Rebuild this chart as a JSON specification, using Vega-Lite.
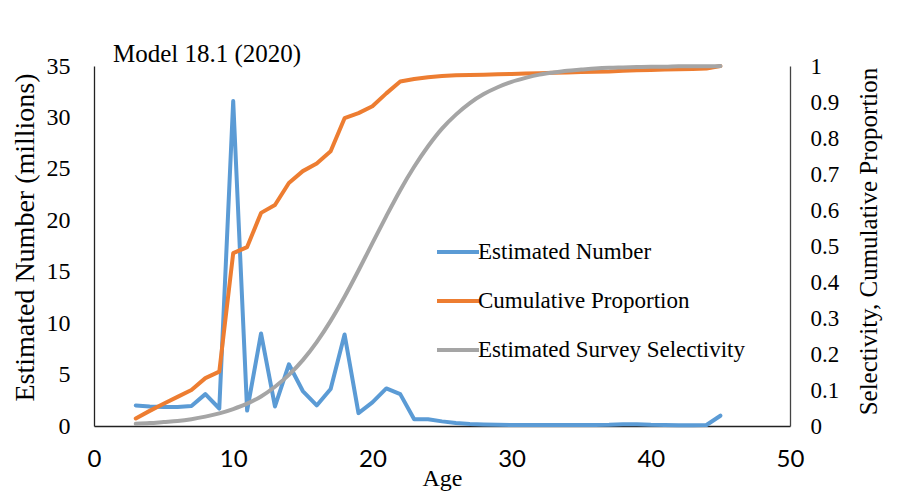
{
  "$schema": "https://vega.github.io/schema/vega-lite/v6.json",
  "width": 696,
  "height": 360,
  "autosize": {"type": "none"},
  "padding": {"left": 94, "top": 66, "right": 111, "bottom": 66},
  "background": "white",
  "config": {"view": {"stroke": null}, "font": "Liberation Serif"},
  "title": {
    "text": "Model 18.1 (2020)",
    "anchor": "start",
    "frame": "group",
    "dx": 19,
    "dy": 36,
    "offset": 3,
    "baseline": "alphabetic",
    "font": "Liberation Serif",
    "fontSize": 25,
    "fontWeight": "normal",
    "color": "black"
  },
  "data": {
    "values": [
      {"age": 3, "number": 2.0, "cumulative": 0.021, "selectivity": 0.006},
      {"age": 4, "number": 1.9, "cumulative": 0.042, "selectivity": 0.008},
      {"age": 5, "number": 1.85, "cumulative": 0.062, "selectivity": 0.011},
      {"age": 6, "number": 1.85, "cumulative": 0.081, "selectivity": 0.014},
      {"age": 7, "number": 1.95, "cumulative": 0.1, "selectivity": 0.019},
      {"age": 8, "number": 3.1, "cumulative": 0.133, "selectivity": 0.026},
      {"age": 9, "number": 1.7, "cumulative": 0.151, "selectivity": 0.035},
      {"age": 10, "number": 31.6, "cumulative": 0.48, "selectivity": 0.047},
      {"age": 11, "number": 1.5, "cumulative": 0.497, "selectivity": 0.062},
      {"age": 12, "number": 9.0, "cumulative": 0.592, "selectivity": 0.082},
      {"age": 13, "number": 1.9, "cumulative": 0.614, "selectivity": 0.109},
      {"age": 14, "number": 6.0, "cumulative": 0.675, "selectivity": 0.142},
      {"age": 15, "number": 3.4, "cumulative": 0.708, "selectivity": 0.183},
      {"age": 16, "number": 2.0, "cumulative": 0.729, "selectivity": 0.233},
      {"age": 17, "number": 3.6, "cumulative": 0.763, "selectivity": 0.292},
      {"age": 18, "number": 8.9, "cumulative": 0.855, "selectivity": 0.359},
      {"age": 19, "number": 1.25, "cumulative": 0.869, "selectivity": 0.432},
      {"age": 20, "number": 2.3, "cumulative": 0.888, "selectivity": 0.508},
      {"age": 21, "number": 3.65, "cumulative": 0.924, "selectivity": 0.583},
      {"age": 22, "number": 3.1, "cumulative": 0.957, "selectivity": 0.655},
      {"age": 23, "number": 0.65, "cumulative": 0.964, "selectivity": 0.72},
      {"age": 24, "number": 0.65, "cumulative": 0.969, "selectivity": 0.777},
      {"age": 25, "number": 0.45, "cumulative": 0.972, "selectivity": 0.826},
      {"age": 26, "number": 0.3, "cumulative": 0.974, "selectivity": 0.865},
      {"age": 27, "number": 0.2, "cumulative": 0.975, "selectivity": 0.897},
      {"age": 28, "number": 0.15, "cumulative": 0.976, "selectivity": 0.922},
      {"age": 29, "number": 0.12, "cumulative": 0.977, "selectivity": 0.941},
      {"age": 30, "number": 0.1, "cumulative": 0.978, "selectivity": 0.956},
      {"age": 31, "number": 0.1, "cumulative": 0.979, "selectivity": 0.967},
      {"age": 32, "number": 0.1, "cumulative": 0.98, "selectivity": 0.976},
      {"age": 33, "number": 0.1, "cumulative": 0.981, "selectivity": 0.982},
      {"age": 34, "number": 0.1, "cumulative": 0.982, "selectivity": 0.987},
      {"age": 35, "number": 0.1, "cumulative": 0.983, "selectivity": 0.99},
      {"age": 36, "number": 0.1, "cumulative": 0.984, "selectivity": 0.993},
      {"age": 37, "number": 0.12, "cumulative": 0.985, "selectivity": 0.995},
      {"age": 38, "number": 0.18, "cumulative": 0.987, "selectivity": 0.996},
      {"age": 39, "number": 0.18, "cumulative": 0.988, "selectivity": 0.997},
      {"age": 40, "number": 0.12, "cumulative": 0.989, "selectivity": 0.998},
      {"age": 41, "number": 0.1, "cumulative": 0.99, "selectivity": 0.998},
      {"age": 42, "number": 0.08, "cumulative": 0.991, "selectivity": 0.999},
      {"age": 43, "number": 0.08, "cumulative": 0.992, "selectivity": 0.999},
      {"age": 44, "number": 0.1, "cumulative": 0.993, "selectivity": 0.999},
      {"age": 45, "number": 1.0, "cumulative": 1.0, "selectivity": 1.0}
    ]
  },
  "encoding": {
    "x": {
      "field": "age",
      "type": "quantitative",
      "scale": {"domain": [0, 50], "nice": false},
      "axis": {
        "title": "Age",
        "values": [0, 10, 20, 30, 40, 50],
        "ticks": false,
        "grid": false,
        "domainColor": "#222222",
        "domainWidth": 1.3,
        "labelFlush": false,
        "labelFont": "Lato",
        "labelFontSize": 24,
        "labelColor": "black",
        "labelPadding": 21,
        "titleFont": "Liberation Serif",
        "titleFontSize": 24,
        "titleFontWeight": "normal",
        "titleColor": "black",
        "titleBaseline": "alphabetic",
        "titleY": 59
      }
    }
  },
  "layer": [
    {
      "mark": {"type": "line", "strokeWidth": 4, "strokeCap": "round", "strokeJoin": "round"},
      "encoding": {
        "y": {
          "field": "number",
          "type": "quantitative",
          "scale": {"domain": [0, 35], "nice": false},
          "axis": {
            "orient": "left",
            "title": "Estimated Number (millions)",
            "values": [0, 5, 10, 15, 20, 25, 30, 35],
            "format": "d",
            "ticks": false,
            "grid": false,
            "domainColor": "#222222",
            "domainWidth": 1.3,
            "labelFlush": false,
            "labelFont": "Liberation Serif",
            "labelFontSize": 24,
            "labelColor": "black",
            "labelPadding": 24,
            "titleFont": "Liberation Serif",
            "titleFontSize": 28,
            "titleFontWeight": "normal",
            "titleColor": "black",
            "titleAngle": -90,
            "titleBaseline": "alphabetic",
            "titleAlign": "center",
            "titleX": -61,
            "titleY": 171
          }
        },
        "color": {
          "datum": "Estimated Number",
          "scale": {
            "domain": ["Estimated Number", "Cumulative Proportion", "Estimated Survey Selectivity"],
            "range": ["#5B9BD5", "#ED7D31", "#A5A5A5"]
          },
          "legend": {
            "orient": "none",
            "legendX": 341,
            "legendY": 163,
            "title": null,
            "symbolType": "stroke",
            "symbolSize": 1764,
            "symbolStrokeWidth": 4,
            "labelFont": "Liberation Serif",
            "labelFontSize": 23,
            "labelColor": "black",
            "labelOffset": -3,
            "rowPadding": 14,
            "labelLimit": 400
          }
        }
      }
    },
    {
      "layer": [
        {
          "mark": {"type": "line", "strokeWidth": 4, "strokeCap": "round", "strokeJoin": "round"},
          "encoding": {
            "y": {
              "field": "cumulative",
              "type": "quantitative",
              "scale": {"domain": [0, 1], "nice": false},
              "axis": {
                "orient": "right",
                "title": "Selectivity, Cumulative Proportion",
                "values": [0, 0.1, 0.2, 0.3, 0.4, 0.5, 0.6, 0.7, 0.8, 0.9, 1],
                "format": "~g",
                "ticks": false,
                "grid": false,
                "domainColor": "#444444",
                "domainWidth": 1.3,
                "labelFlush": false,
                "labelFont": "Liberation Serif",
                "labelFontSize": 23,
                "labelColor": "black",
                "labelPadding": 20,
                "titleFont": "Liberation Serif",
                "titleFontSize": 25,
                "titleFontWeight": "normal",
                "titleColor": "black",
                "titleAngle": -90,
                "titleBaseline": "alphabetic",
                "titleAlign": "center",
                "titleX": 86,
                "titleY": 175
              }
            },
            "color": {"datum": "Cumulative Proportion"}
          }
        },
        {
          "mark": {"type": "line", "strokeWidth": 4, "strokeCap": "round", "interpolate": "monotone"},
          "encoding": {
            "y": {
              "field": "selectivity",
              "type": "quantitative",
              "scale": {"domain": [0, 1], "nice": false},
              "axis": {
                "orient": "right",
                "title": "Selectivity, Cumulative Proportion",
                "values": [0, 0.1, 0.2, 0.3, 0.4, 0.5, 0.6, 0.7, 0.8, 0.9, 1],
                "format": "~g",
                "ticks": false,
                "grid": false,
                "domainColor": "#444444",
                "domainWidth": 1.3,
                "labelFlush": false,
                "labelFont": "Liberation Serif",
                "labelFontSize": 23,
                "labelColor": "black",
                "labelPadding": 20,
                "titleFont": "Liberation Serif",
                "titleFontSize": 25,
                "titleFontWeight": "normal",
                "titleColor": "black",
                "titleAngle": -90,
                "titleBaseline": "alphabetic",
                "titleAlign": "center",
                "titleX": 86,
                "titleY": 175
              }
            },
            "color": {"datum": "Estimated Survey Selectivity"}
          }
        }
      ]
    }
  ],
  "resolve": {"scale": {"y": "independent"}}
}
